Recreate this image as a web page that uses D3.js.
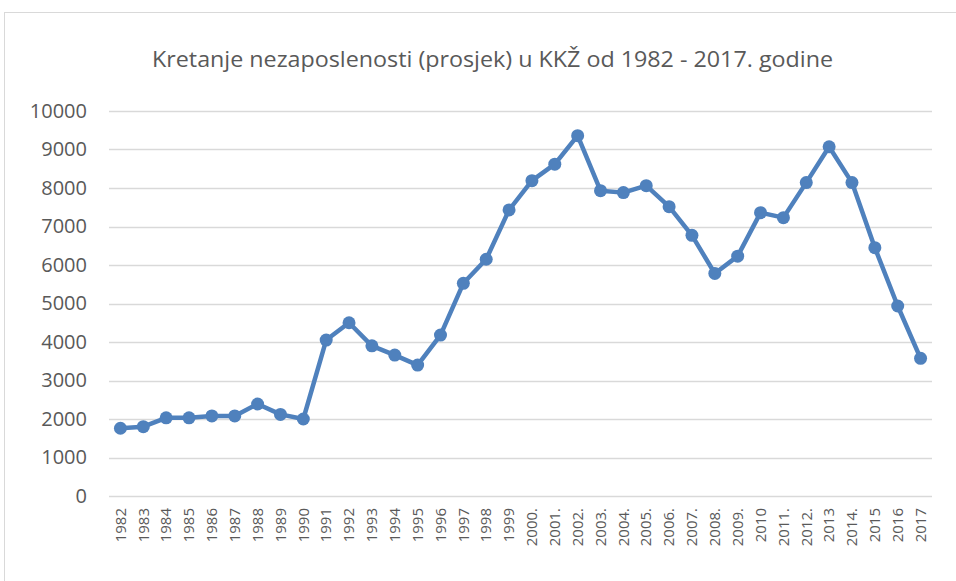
<!DOCTYPE html>
<html>
<head>
<meta charset="utf-8">
<script src="https://cdn.jsdelivr.net/npm/d3@7"></script>
<style>
  body { margin: 0; background: #fff; }
  text { font-family: "Open Sans", Lato, sans-serif; }
</style>
</head>
<body>
<div id="chart"></div>
<script>
// data
const years = ["1982","1983","1984","1985","1986","1987","1988","1989","1990","1991",
  "1992","1993","1994","1995","1996","1997","1998","1999","2000.","2001.",
  "2002.","2003.","2004.","2005.","2006.","2007.","2008.","2009.","2010","2011.",
  "2012.","2013","2014.","2015","2016","2017"];
const unemployed = [1760, 1800, 2030, 2030, 2080, 2080, 2390, 2120, 2000, 4050,
  4500, 3900, 3660, 3400, 4180, 5525, 6150, 7430, 8190, 8620,
  9360, 7930, 7880, 8060, 7515, 6770, 5780, 6230, 7360, 7230,
  8140, 9070, 8140, 6450, 4935, 3575];
const yTicks = [0, 1000, 2000, 3000, 4000, 5000, 6000, 7000, 8000, 9000, 10000];
const title = "Kretanje nezaposlenosti (prosjek) u KKŽ od 1982 - 2017. godine";

const dimensions = {
  width: 956,
  height: 581,
  margin: { top: 111, right: 24, bottom: 85, left: 109 },
};
dimensions.boundedWidth = dimensions.width - dimensions.margin.left - dimensions.margin.right;
dimensions.boundedHeight = dimensions.height - dimensions.margin.top - dimensions.margin.bottom;

const svg = d3.select("#chart").append("svg")
  .attr("width", dimensions.width)
  .attr("height", dimensions.height);

// chart frame
svg.append("rect")
  .attr("x", 4.5).attr("y", 12.5)
  .attr("width", 980).attr("height", 600)
  .attr("fill", "none").attr("stroke", "#d9d9d9");

svg.append("text")
  .attr("x", 492.5).attr("y", 67)
  .attr("text-anchor", "middle")
  .attr("font-size", 21.5)
  .attr("textLength", 681)
  .attr("lengthAdjust", "spacingAndGlyphs")
  .attr("fill", "#595959")
  .text(title);

const bounds = svg.append("g")
  .attr("transform", `translate(${dimensions.margin.left},${dimensions.margin.top})`);

const xScale = d3.scaleBand()
  .domain(years)
  .range([0, dimensions.boundedWidth]);

const yScale = d3.scaleLinear()
  .domain([0, 10000])
  .range([dimensions.boundedHeight, 0]);

// gridlines
bounds.append("g")
  .selectAll("line")
  .data(yTicks)
  .join("line")
  .attr("x1", 0).attr("x2", dimensions.boundedWidth)
  .attr("y1", d => Math.round(yScale(d)) + 0.5)
  .attr("y2", d => Math.round(yScale(d)) + 0.5)
  .attr("stroke", "#d9d9d9")
  .attr("stroke-width", 1.3);

// y axis labels
const yAxis = bounds.append("g")
  .attr("transform", "translate(-22,0)")
  .call(d3.axisLeft(yScale).tickValues(yTicks).tickFormat(d3.format("d")).tickSize(0).tickPadding(0));
yAxis.select(".domain").remove();
yAxis.selectAll("text")
  .attr("font-size", 20)
  .attr("font-family", "'Open Sans', Lato, sans-serif")
  .attr("fill", "#595959");

// x axis labels
const xAxis = bounds.append("g")
  .attr("transform", `translate(0,${dimensions.boundedHeight})`)
  .call(d3.axisBottom(xScale).tickSize(0).tickPadding(0));
xAxis.select(".domain").remove();
xAxis.selectAll("text")
  .attr("transform", "rotate(-90)")
  .attr("text-anchor", "end")
  .attr("x", -12)
  .attr("y", 0)
  .attr("dy", "0.35em")
  .attr("font-size", 15)
  .attr("font-family", "'Open Sans', Lato, sans-serif")
  .attr("fill", "#595959");

// line and markers
const xPos = d => xScale(d) + xScale.bandwidth() / 2;
const lineGen = d3.line()
  .x((d, i) => xPos(years[i]))
  .y(d => yScale(d));

bounds.append("path")
  .datum(unemployed)
  .attr("d", lineGen)
  .attr("fill", "none")
  .attr("stroke", "#4f81bd")
  .attr("stroke-width", 4.5)
  .attr("stroke-linejoin", "round");

bounds.append("g")
  .selectAll("circle")
  .data(unemployed)
  .join("circle")
  .attr("cx", (d, i) => xPos(years[i]))
  .attr("cy", d => yScale(d))
  .attr("r", 6.5)
  .attr("fill", "#4f81bd");
</script>
</body>
</html>
